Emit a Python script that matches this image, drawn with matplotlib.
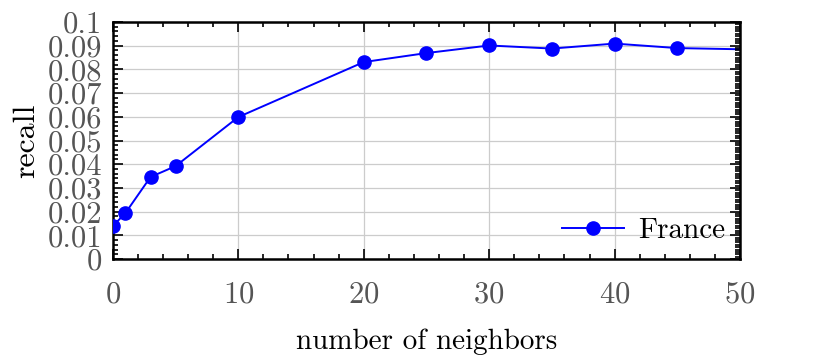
import matplotlib
matplotlib.use("Agg")
import matplotlib.pyplot as plt
from matplotlib.ticker import MultipleLocator, FuncFormatter

neighbors = [0, 1, 3, 5, 10, 20, 25, 30, 35, 40, 45, 60]
recall_france = [0.0139, 0.0194, 0.0346, 0.0392, 0.0599, 0.0831, 0.0869,
                 0.0901, 0.0888, 0.0909, 0.0890, 0.0875]
series_label = "France"
x_label = "number of neighbors"
y_label = "recall"

plt.rcParams['font.family'] = ['cmr10', 'DejaVu Serif']
plt.rcParams['mathtext.fontset'] = 'cm'
plt.rcParams['axes.unicode_minus'] = False
plt.rcParams['axes.formatter.use_mathtext'] = True

fig = plt.figure(figsize=(8.3, 3.58), dpi=100)
ax = fig.add_axes([0.136, 0.2765, 0.7556, 0.662])

ax.plot(neighbors, recall_france, color='#0000ff', marker='o', markersize=9.5,
        linewidth=1.4, label=series_label, zorder=3)

ax.set_xlim(0, 50)
ax.set_ylim(0, 0.1)
ax.xaxis.set_major_locator(MultipleLocator(10))
ax.xaxis.set_minor_locator(MultipleLocator(2))
ax.yaxis.set_major_locator(MultipleLocator(0.01))
ax.yaxis.set_minor_locator(MultipleLocator(0.002))
ax.yaxis.set_major_formatter(FuncFormatter(lambda v, p: f"{v:g}"))

ax.grid(True, which='major', color='#cccccc', linewidth=0.9, zorder=0)
ax.set_axisbelow(True)

ax.tick_params(axis='both', which='major', direction='in', length=7, width=1.2,
               top=True, right=False, labelsize=22, labelcolor='#555555', color='black')
ax.tick_params(axis='both', which='minor', direction='in', length=3.5, width=1.2,
               top=True, right=False, color='black')
ax.tick_params(axis='x', which='major', pad=16)
ax.tick_params(axis='y', which='major', pad=8)

for s in ax.spines.values():
    s.set_linewidth(1.8)
    s.set_color('black')

ax2 = ax.twinx()
ax2.set_ylim(0, 0.1)
ax2.yaxis.set_major_locator(MultipleLocator(0.01))
ax2.yaxis.set_minor_locator(MultipleLocator(0.001))
ax2.tick_params(axis='y', which='major', direction='in', length=7, width=1.2, labelright=False)
ax2.tick_params(axis='y', which='minor', direction='in', length=3.5, width=1.2)
for s in ax2.spines.values():
    s.set_visible(False)

ax.set_xlabel(x_label, fontsize=21, color='black', labelpad=14)
ax.set_ylabel(y_label, fontsize=23, color='black', labelpad=5)

ax.legend(loc='lower right', frameon=False, fontsize=21, handlelength=2.1,
          borderaxespad=0.1, handletextpad=0.5)

fig.savefig('out.png', dpi=100)
